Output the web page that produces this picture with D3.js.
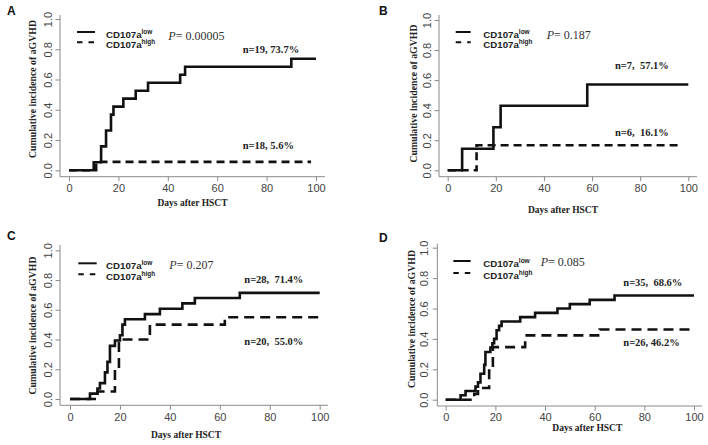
<!DOCTYPE html>
<html><head><meta charset="utf-8">
<script src="https://cdn.jsdelivr.net/npm/d3@7"></script>
<style>body{margin:0;background:#fff}svg{display:block}</style>
</head><body>
<svg id="c" width="708" height="445"></svg>
<script>
// ---------- data ----------
const xTicks = [0, 20, 40, 60, 80, 100];
const yTicks = [0, 0.2, 0.4, 0.6, 0.8, 1.0];
const panelLetters = ["A", "B", "C", "D"];
const pValues = ["0.00005", "0.187", "0.207", "0.085"];
const lowLabels = ["n=19, 73.7%", "n=7,  57.1%", "n=28,  71.4%", "n=35,  68.6%"];
const highLabels = ["n=18, 5.6%", "n=6,  16.1%", "n=20,  55.0%", "n=26, 46.2%"];
const seriesNames = ["low", "high"];

const aLowDays = [0, 10, 13, 15, 17, 18, 22, 27, 32, 45, 47, 90, 100];
const aLowCI   = [0, 0.053, 0.158, 0.263, 0.368, 0.421, 0.474, 0.526, 0.579, 0.632, 0.684, 0.737, 0.737];
const aHighDays = [0, 11, 98];
const aHighCI   = [0, 0.056, 0.056];

const bLowDays = [0, 6, 19, 22, 58, 100];
const bLowCI   = [0, 0.143, 0.286, 0.429, 0.571, 0.571];
const bHighDays = [0, 12, 97.5];
const bHighCI   = [0, 0.167, 0.167];

const cLowDays = [0, 8, 11, 12, 14, 15, 16, 18, 20, 21, 22, 30, 36, 45, 50, 68, 100];
const cLowCI   = [0, 0.036, 0.071, 0.107, 0.179, 0.25, 0.357, 0.393, 0.429, 0.5, 0.536, 0.571, 0.607, 0.643, 0.679, 0.714, 0.714];
const cHighDays = [0, 11, 18, 19.6, 32, 62, 100];
const cHighCI   = [0, 0.05, 0.2, 0.4, 0.5, 0.55, 0.55];

const dLowDays = [0, 6, 8, 12, 13, 14, 15.5, 16, 18, 18.8, 19.5, 20.5, 21.5, 22.5, 30, 36, 45, 50, 58, 68, 100];
const dLowCI   = [0, 0.029, 0.057, 0.086, 0.114, 0.171, 0.229, 0.314, 0.343, 0.371, 0.4, 0.457, 0.486, 0.514, 0.543, 0.571, 0.6, 0.629, 0.657, 0.686, 0.686];
const dHighDays = [0, 11.5, 13, 17.5, 19, 32, 62, 100];
const dHighCI   = [0, 0.038, 0.077, 0.192, 0.346, 0.423, 0.462, 0.462];

// ---------- layout ----------
const layouts = [
  {x0:69, x100:316, y0:170.3, y1:19, axX:60, axY:176.7, axTop:15, axRight:325, yLab:48.3,
   letter:[7,15], yTitle:[33,89], xTitle:[192.5,205.5], legX:[77,95], legY:[32,42.3], legText:106,
   pPos:[168.3,40], lowPos:[242.7,53], highPos:[242.7,149], dash:"8,5"},
  {x0:447.7, x100:688.3, y0:170.3, y1:20, axX:439, axY:176.7, axTop:15, axRight:697, yLab:426.7,
   letter:[379,15], yTitle:[413.3,93.5], xTitle:[563,212.6], legX:[455.7,470.7], legY:[32,42.3], legText:483.3,
   pPos:[546.7,38.5], lowPos:[615,69.4], highPos:[615,136], dash:"8,5"},
  {x0:70, x100:319.7, y0:399, y1:250.3, axX:60, axY:405.3, axTop:245, axRight:328, yLab:48.3,
   letter:[7,240], yTitle:[32.7,325.5], xTitle:[186,437.6], legX:[78.3,96.7], legY:[263.3,274.3], legText:106,
   pPos:[169.3,268.7], lowPos:[244.3,283], highPos:[244.3,345], dash:"10,6"},
  {x0:445.7, x100:694, y0:399.7, y1:247.7, axX:437.3, axY:406, axTop:243.7, axRight:702, yLab:424,
   letter:[379,242], yTitle:[411.3,319], xTitle:[587.3,431], legX:[453.3,470.7], legY:[261,273], legText:483.3,
   pPos:[540.7,266], lowPos:[623.3,285.7], highPos:[623.3,346.4], dash:"10,6"}
];

const curves = [
  [d3.zip(aLowDays, aLowCI), d3.zip(aHighDays, aHighCI)],
  [d3.zip(bLowDays, bLowCI), d3.zip(bHighDays, bHighCI)],
  [d3.zip(cLowDays, cLowCI), d3.zip(cHighDays, cHighCI)],
  [d3.zip(dLowDays, dLowCI), d3.zip(dHighDays, dHighCI)]
];

const svg = d3.select("#c");
const serif = "'Liberation Serif','Times New Roman',serif";
const sans = "'Liberation Sans',Arial,sans-serif";

layouts.forEach((L, i) => {
  const x = d3.scaleLinear().domain([0, 100]).range([L.x0, L.x100]);
  const y = d3.scaleLinear().domain([0, 1]).range([L.y0, L.y1]);
  const g = svg.append("g");

  // axis frame (L shape)
  g.append("path")
    .attr("d", `M${L.axX},${L.axTop}V${L.axY}H${L.axRight}`)
    .attr("fill", "none").attr("stroke", "#8a8a8a").attr("stroke-width", 1);

  // x axis
  const xa = g.append("g").attr("transform", `translate(0,${L.axY})`)
    .call(d3.axisBottom(x).tickValues(xTicks).tickSize(4.5).tickPadding(3).tickFormat(d3.format("d")));
  xa.select(".domain").remove();
  xa.selectAll("line").attr("stroke", "#8a8a8a");
  xa.selectAll("text").attr("font-family", sans).attr("font-size", 11).attr("fill", "#444");

  // y axis
  const ya = g.append("g").attr("transform", `translate(${L.axX},0)`)
    .call(d3.axisLeft(y).tickValues(yTicks).tickSize(4.5).tickFormat(d3.format(".1f")));
  ya.select(".domain").remove();
  ya.selectAll("line").attr("stroke", "#8a8a8a");
  ya.selectAll("text")
    .attr("font-family", sans).attr("font-size", 11).attr("fill", "#444")
    .attr("transform", "rotate(-90)")
    .attr("x", 0).attr("y", -(L.axX - L.yLab)).attr("dy", "0.36em")
    .attr("text-anchor", "middle");

  // curves
  const line = d3.line().x(d => x(d[0])).y(d => y(d[1])).curve(d3.curveStepAfter);
  curves[i].forEach((pts, k) => {
    g.append("path").datum(pts)
      .attr("d", line)
      .attr("fill", "none").attr("stroke", "#111").attr("stroke-width", 2.6)
      .attr("stroke-dasharray", seriesNames[k] === "high" ? L.dash : null);
  });

  // panel letter
  g.append("text").attr("x", L.letter[0]).attr("y", L.letter[1])
    .attr("font-family", sans).attr("font-weight", "bold").attr("font-size", 12).attr("fill", "#111")
    .text(panelLetters[i]);

  // axis titles
  g.append("text")
    .attr("transform", `translate(${L.yTitle[0] + 3.4},${L.yTitle[1]}) rotate(-90)`)
    .attr("text-anchor", "middle").attr("font-family", serif).attr("font-weight", "bold")
    .attr("font-size", 9.8).attr("fill", "#222").text("Cumulative incidence of aGVHD");
  g.append("text").attr("x", L.xTitle[0]).attr("y", L.xTitle[1])
    .attr("text-anchor", "middle").attr("font-family", serif).attr("font-weight", "bold")
    .attr("font-size", 9.5).attr("fill", "#222").text("Days after HSCT");

  // legend
  seriesNames.forEach((s, k) => {
    const ly = L.legY[k];
    g.append("line").attr("x1", L.legX[0]).attr("x2", L.legX[1]).attr("y1", ly).attr("y2", ly)
      .attr("stroke", "#111").attr("stroke-width", 2)
      .attr("stroke-dasharray", s === "high" ? "5.5,6" : null);
    const t = g.append("text").attr("x", L.legText).attr("y", ly + 6)
      .attr("font-family", sans).attr("font-weight", "bold").attr("font-size", 9.7).attr("fill", "#222");
    t.append("tspan").text("CD107a");
    t.append("tspan").attr("font-size", 6.5).attr("dy", -4).text(s);
  });

  // p value
  const pt = g.append("text").attr("x", L.pPos[0]).attr("y", L.pPos[1])
    .attr("font-family", serif).attr("font-size", 12).attr("fill", "#333");
  pt.append("tspan").attr("font-style", "italic").text("P");
  pt.append("tspan").text("= " + pValues[i]);

  // n labels
  [[L.lowPos, lowLabels[i]], [L.highPos, highLabels[i]]].forEach(([p, txt]) => {
    g.append("text").attr("x", p[0]).attr("y", p[1])
      .attr("font-family", serif).attr("font-weight", "bold").attr("font-size", 10.5)
      .attr("fill", "#222").style("white-space", "pre").text(txt);
  });
});
</script>
</body></html>
